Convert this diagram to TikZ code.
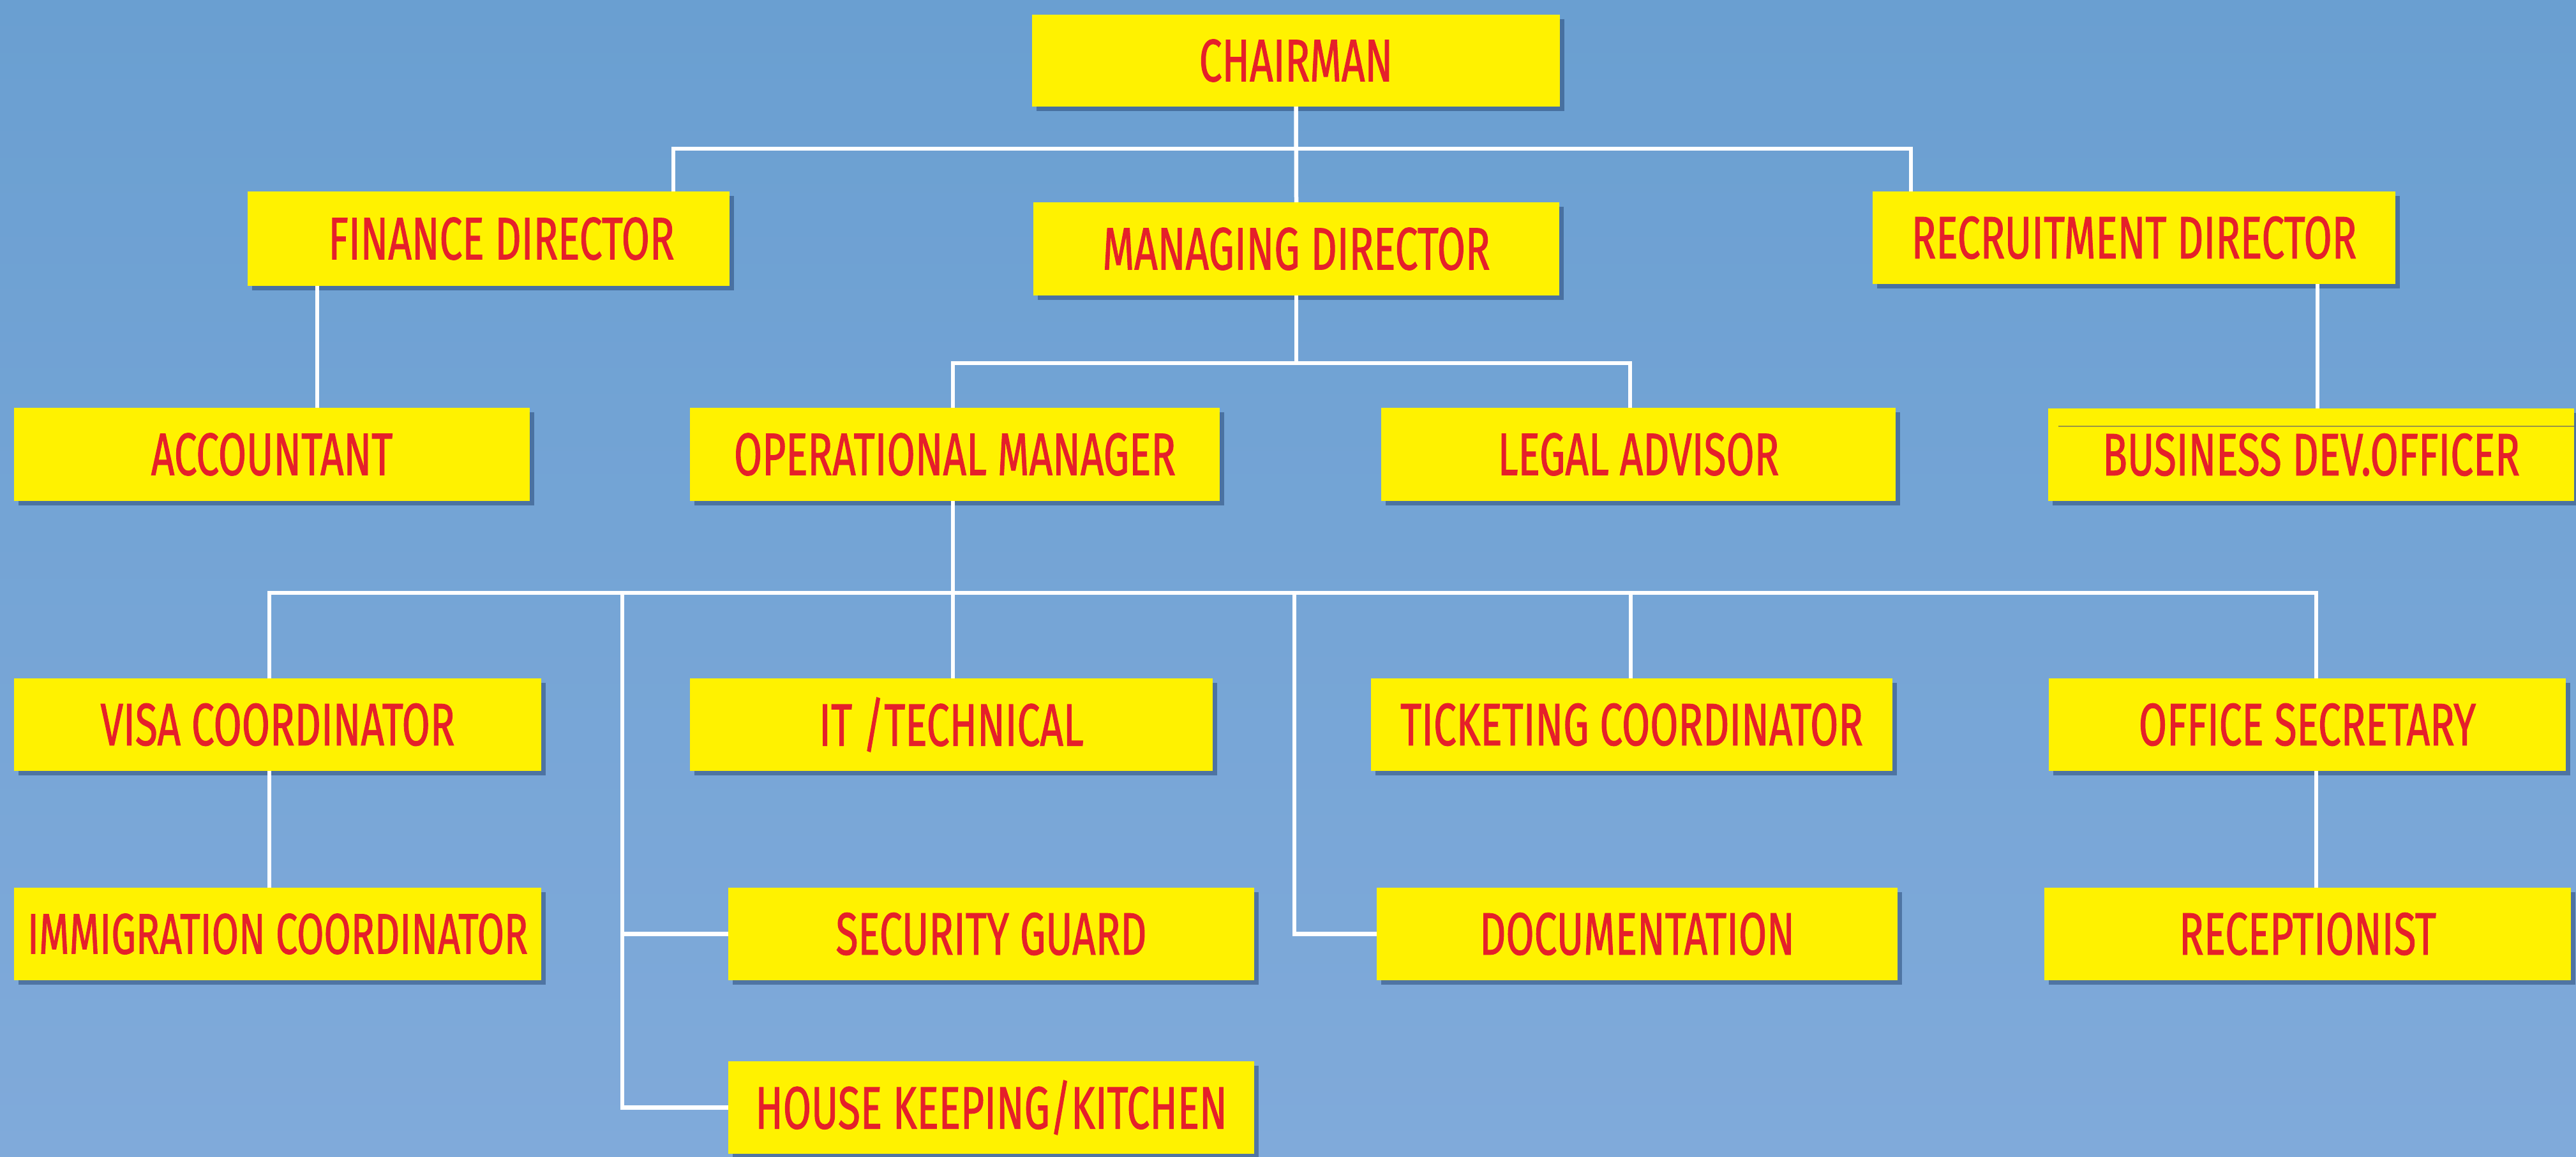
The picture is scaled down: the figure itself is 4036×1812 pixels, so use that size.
\documentclass[tikz,border=0pt]{standalone}
\usepackage{fontspec}
\setmainfont[FakeStretch=0.68, FakeBold=1.0]{Fira Sans}
\usetikzlibrary{shadows}
\definecolor{bgtop}{HTML}{6A9FD1}
\definecolor{bgbot}{HTML}{80AADA}
\definecolor{boxy}{HTML}{FFF200}
\definecolor{txtr}{HTML}{E5202A}
\definecolor{shad}{HTML}{2A4A78}
\tikzset{
  orgbox/.style={fill=boxy, inner sep=0pt, text=txtr,
    font=\fontsize{94}{100}\selectfont,
    drop shadow={shadow xshift=7pt, shadow yshift=-7pt, fill=shad, opacity=0.55}},
  conn/.style={draw=white, line width=6.5pt, line join=miter}
}
\newcommand\orgnode[6]{\node[orgbox, minimum width={#4-#2}, minimum height={#5-#3}] (#1) at ({(#2+#4)/2},{(#3+#5)/2}) {#6};}
\begin{document}
\begin{tikzpicture}[x=1pt,y=-1pt]
\useasboundingbox (0,0) rectangle (4036,1812);
\fill[top color=bgtop, bottom color=bgbot] (0,0) rectangle (4036,1812);

\coordinate (b1l) at (1055,233);
\coordinate (b1r) at (2994,233);
\coordinate (xa) at (497,0);
\coordinate (xb) at (3631,0);
\coordinate (b2l) at (1493,569);
\coordinate (b2r) at (2554,569);
\coordinate (b3l) at (422,929);
\coordinate (b3r) at (3629,929);
\coordinate (t1) at (975,929);
\coordinate (t2) at (2028,929);
\coordinate (t3) at (2555,929);

\orgnode{ch}{1617}{23}{2444}{167}{CHAIRMAN}
\orgnode{fin}{388}{300}{1143}{448}{\hspace*{40pt}FINANCE DIRECTOR}
\orgnode{md}{1619}{317}{2443}{463}{MANAGING DIRECTOR}
\orgnode{rec}{2934}{300}{3753}{445}{RECRUITMENT DIRECTOR}
\orgnode{acc}{22}{639}{830}{785}{ACCOUNTANT}
\orgnode{om}{1081}{639}{1911}{785}{OPERATIONAL MANAGER}
\orgnode{legal}{2164}{639}{2970}{785}{LEGAL ADVISOR}
\orgnode{bdo}{3209}{640}{4033}{785}{BUSINESS DEV.OFFICER}
\orgnode{visa}{22}{1063}{848}{1208}{VISA COORDINATOR}
\orgnode{it}{1081}{1063}{1900}{1208}{IT /TECHNICAL}
\orgnode{tick}{2148}{1063}{2965}{1208}{TICKETING COORDINATOR}
\orgnode{off}{3210}{1063}{4020}{1208}{OFFICE SECRETARY}
\orgnode{imm}{22}{1391}{848}{1536}{\fontsize{90}{96}\selectfont IMMIGRATION COORDINATOR}
\orgnode{sec}{1141}{1391}{1965}{1536}{SECURITY GUARD}
\orgnode{doc}{2157}{1391}{2973}{1536}{DOCUMENTATION}
\orgnode{recp}{3203}{1391}{4028}{1536}{RECEPTIONIST}
\orgnode{hk}{1141}{1663}{1965}{1808}{HOUSE KEEPING/KITCHEN}

\draw[line width=1.5pt, draw=yellow!55!black] (3225,668) -- (4033,668);

\draw[conn] (ch.south) -- (md.north);
\draw[conn] (fin.north -| b1l) -- (b1l) -- (b1r) -- (rec.north -| b1r);
\draw[conn] (fin.south -| xa) -- (acc.north -| xa);
\draw[conn] (rec.south -| xb) -- (bdo.north -| xb);
\draw[conn] (md.south) -- (md.south |- b2l);
\draw[conn] (om.north -| b2l) -- (b2l) -- (b2r) -- (legal.north -| b2r);
\draw[conn] (om.south -| b2l) -- (it.north -| b2l);
\draw[conn] (visa.north -| b3l) -- (b3l) -- (b3r) -- (off.north -| b3r);
\draw[conn] (visa.south -| b3l) -- (imm.north -| b3l);
\draw[conn] (off.south -| b3r) -- (recp.north -| b3r);
\draw[conn] (t1) |- (hk.west);
\draw[conn] (t1 |- sec.west) -- (sec.west);
\draw[conn] (t2) |- (doc.west);
\draw[conn] (t3) -- (tick.north -| t3);
\end{tikzpicture}
\end{document}
